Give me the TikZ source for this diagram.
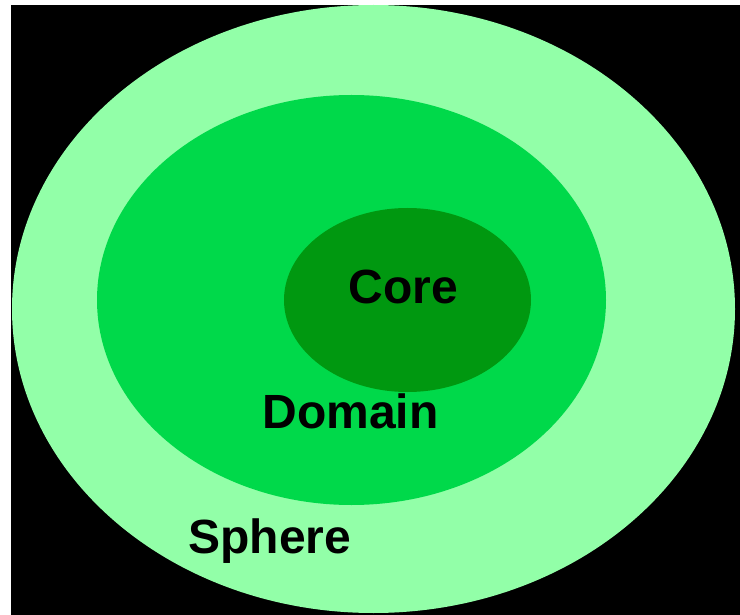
\documentclass[tikz,border=0pt]{standalone}
\usepackage{fontspec}
\setmainfont{Liberation Sans}
\usetikzlibrary{shapes.geometric}
\definecolor{spheregreen}{RGB}{146,255,168}
\definecolor{domaingreen}{RGB}{0,217,74}
\definecolor{coregreen}{RGB}{0,152,16}

\begin{document}
\begin{tikzpicture}[x=1pt, y=-1pt]
\tikzstyle{ring} = [ellipse, inner sep=0pt, outer sep=0pt]
\tikzstyle{label} = [anchor=base, inner sep=0pt, text=black,
    font=\bfseries\fontsize{48}{48}\selectfont]

% page and backdrop
\useasboundingbox (0,0) rectangle (740,615);
\fill[white] (0,0) rectangle (740,615);
\fill[black] (11,5) rectangle (740,615);

\node (sphere) [ring, fill=spheregreen, minimum width=723pt, minimum height=608pt] at (373.5,309) {};
\node (domain) [ring, fill=domaingreen, minimum width=509pt, minimum height=410pt] at (351.5,300) {};
\node (core) [ring, fill=coregreen, minimum width=247pt, minimum height=184pt] at (407.5,300) {};

\node (corelabel) [label] at (403.5,303) {Core};
\node (domainlabel) [label] at (350.5,428) {Domain};
\node (spherelabel) [label] at (270,553) {Sphere};
\end{tikzpicture}
\end{document}
